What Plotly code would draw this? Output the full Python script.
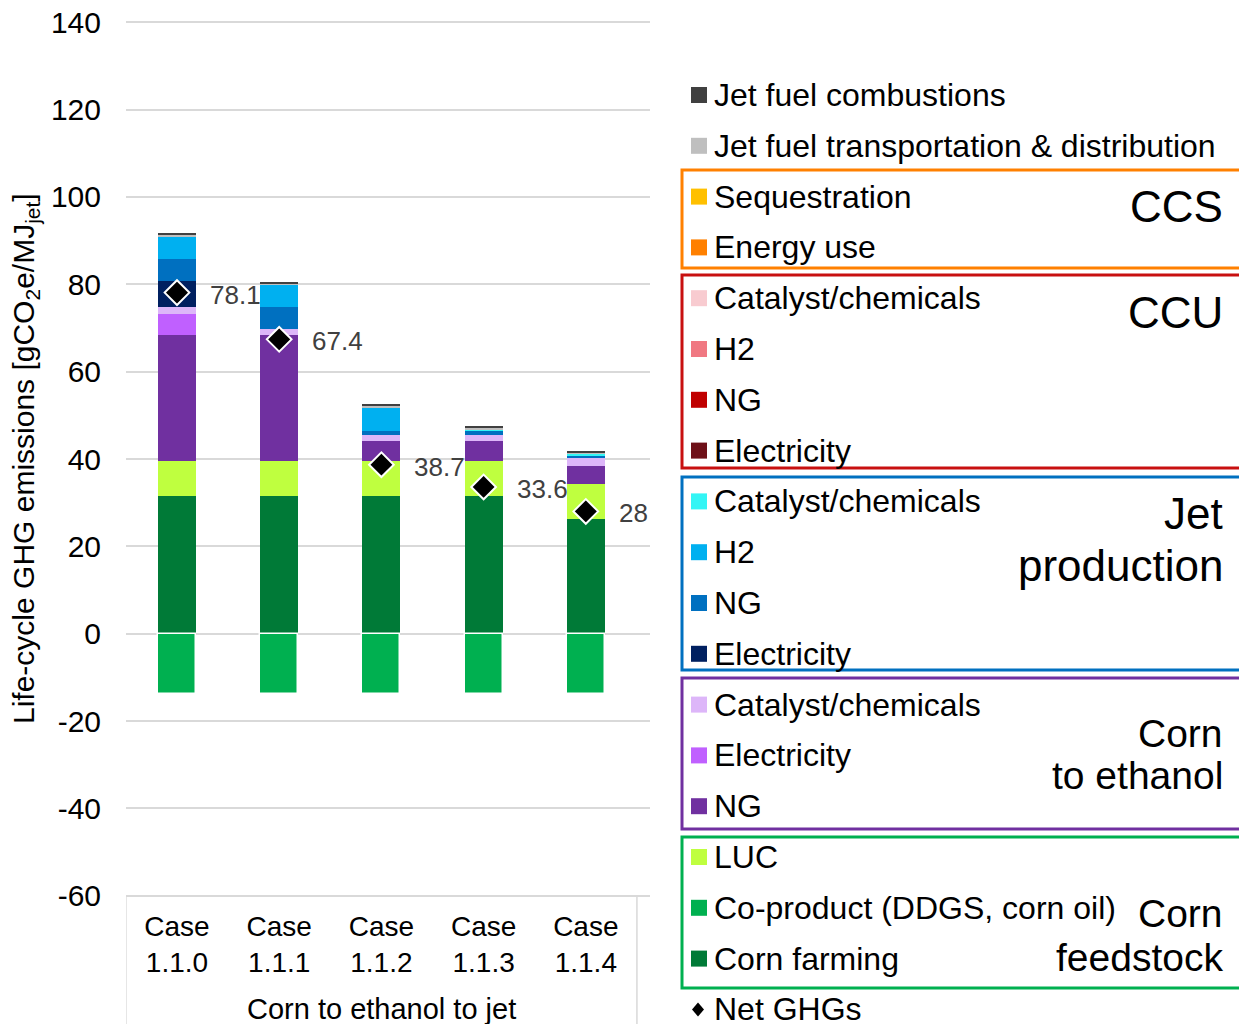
import plotly.graph_objects as go

# ---------------- data ----------------
cases = ["Case<br>1.1.0", "Case<br>1.1.1", "Case<br>1.1.2", "Case<br>1.1.3", "Case<br>1.1.4"]
x_pos = [0, 1, 2, 3, 4]

y_tick_vals = [-60, -40, -20, 0, 20, 40, 60, 80, 100, 120, 140]
y_tick_text = ["-60", "-40", "-20", "0", "20", "40", "60", "80", "100", "120", "140"]

corn_farming = [31.5, 31.5, 31.5, 31.5, 26.3]
co_product = [-13.9, -13.9, -13.9, -13.9, -13.9]
luc = [8.0, 8.0, 8.0, 8.0, 8.0]
corn_ng = [28.8, 28.8, 4.6, 4.6, 4.2]
corn_elec = [4.9, 0.0, 0.0, 0.0, 0.0]
corn_cat = [1.6, 1.4, 1.4, 1.5, 1.8]
jet_elec = [5.9, 0.0, 0.0, 0.0, 0.0]
jet_ng = [5.0, 5.0, 1.0, 1.0, 0.5]
jet_h2 = [5.3, 5.3, 5.4, 0.0, 0.0]
jet_cat = [0.0, 0.0, 0.0, 0.2, 0.4]
ccu_elec = [0.0, 0.0, 0.0, 0.0, 0.0]
ccu_ng = [0.0, 0.0, 0.0, 0.0, 0.0]
ccu_h2 = [0.0, 0.0, 0.0, 0.0, 0.0]
ccu_cat = [0.0, 0.0, 0.0, 0.0, 0.0]
ccs_energy = [0.0, 0.0, 0.0, 0.0, 0.0]
ccs_seq = [0.0, 0.0, 0.0, 0.0, 0.0]
jet_td = [0.3, 0.3, 0.3, 0.3, 0.3]
jet_comb = [0.3, 0.3, 0.3, 0.3, 0.3]

net = [78.1, 67.4, 38.7, 33.6, 28]
net_labels = ["78.1", "67.4", "38.7", "33.6", "28"]

# stacking order (bottom -> top); legend shows the reverse
series = [
    ("Corn farming", corn_farming, "#007A37"),
    ("Co-product (DDGS, corn oil)", co_product, "#00B050"),
    ("LUC", luc, "#BFFF3F"),
    ("NG", corn_ng, "#7030A0"),
    ("Electricity", corn_elec, "#C060FF"),
    ("Catalyst/chemicals", corn_cat, "#DDB6F9"),
    ("Electricity", jet_elec, "#002060"),
    ("NG", jet_ng, "#0070C0"),
    ("H2", jet_h2, "#00B0F0"),
    ("Catalyst/chemicals", jet_cat, "#33F5F5"),
    ("Electricity", ccu_elec, "#6E1018"),
    ("NG", ccu_ng, "#C00000"),
    ("H2", ccu_h2, "#F07882"),
    ("Catalyst/chemicals", ccu_cat, "#F8CBD0"),
    ("Energy use", ccs_energy, "#FF8000"),
    ("Sequestration", ccs_seq, "#FFC000"),
    ("Jet fuel transportation &amp; distribution", jet_td, "#BFBFBF"),
    ("Jet fuel combustions", jet_comb, "#404040"),
]

FONT = "Liberation Sans, Arial, sans-serif"
W, H = 1239, 1024
L, R, T, B = 126, 589, 21, 127
PW, PH = W - L - R, H - T - B


def px(xp):
    return (xp - L) / PW


def py(yp):
    return (H - B - yp) / PH


fig = go.Figure()
for name, vals, color in series:
    lw = 1.5 if name.startswith("Co-product") else 0
    fig.add_trace(go.Bar(
        x=x_pos, y=vals, name=name, width=0.372,
        marker=dict(color=color, line=dict(color="white", width=lw)),
        showlegend=False,
    ))

fig.add_trace(go.Scatter(
    x=x_pos, y=net, mode="markers", name="Net GHGs",
    marker=dict(symbol="diamond", size=19, color="black",
                line=dict(color="white", width=2)),
    showlegend=False,
))

annotations = []
for i, (xv, yv) in enumerate(zip(x_pos, net)):
    annotations.append(dict(
        x=xv, y=yv, xref="x", yref="y", text=net_labels[i], showarrow=False,
        xanchor="left", yanchor="middle", xshift=31, yshift=-2,
        font=dict(family=FONT, size=26, color="#404040"),
    ))

# y-axis title
annotations.append(dict(
    x=px(25), y=0.5, xref="paper", yref="paper",
    text="Life-cycle GHG emissions [gCO<sub>2</sub>e/MJ<sub>jet</sub>]",
    textangle=-90, showarrow=False, xanchor="center", yanchor="middle",
    font=dict(family=FONT, size=30, color="#000000"),
))

# group label under category axis
annotations.append(dict(
    x=2, y=py(1009), xref="x", yref="paper", text="Corn to ethanol to jet",
    showarrow=False, xanchor="center", yanchor="middle",
    font=dict(family=FONT, size=29, color="#000000"),
))

shapes = [
    dict(type="line", xref="x", yref="paper", x0=-0.5, x1=-0.5, y0=0, y1=py(1030),
         line=dict(color="#D9D9D9", width=1.5)),
    dict(type="line", xref="x", yref="paper", x0=4.5, x1=4.5, y0=0, y1=py(1030),
         line=dict(color="#D9D9D9", width=1.5)),
]

# ---------------- custom legend ----------------
legend_items = list(reversed(series))
row0, row_step = 95, 50.8
for i, (name, vals, color) in enumerate(legend_items):
    cy = row0 + i * row_step
    shapes.append(dict(type="rect", xref="paper", yref="paper",
                       x0=px(691), x1=px(707), y0=py(cy + 8), y1=py(cy - 8),
                       fillcolor=color, line=dict(width=0)))
    annotations.append(dict(
        x=px(712), y=py(cy), xref="paper", yref="paper", text=name,
        showarrow=False, xanchor="left", yanchor="middle",
        font=dict(family=FONT, size=32, color="#000000"),
    ))

cy = row0 + len(legend_items) * row_step
dx0, dy0 = px(698), py(cy)
hx, hy = 6 / PW, 7 / PH
shapes.append(dict(type="path", xref="paper", yref="paper",
                   path=f"M {dx0-hx} {dy0} L {dx0} {dy0+hy} L {dx0+hx} {dy0} L {dx0} {dy0-hy} Z",
                   fillcolor="black", line=dict(width=0)))
annotations.append(dict(
    x=px(712), y=py(cy), xref="paper", yref="paper", text="Net GHGs",
    showarrow=False, xanchor="left", yanchor="middle",
    font=dict(family=FONT, size=32, color="#000000"),
))

boxes = [
    (170, 268, "#FF8000"),
    (275, 468, "#C81010"),
    (477, 670, "#0070C0"),
    (678, 829, "#7030A0"),
    (837, 988, "#00B050"),
]
for y0, y1, col in boxes:
    shapes.append(dict(type="rect", xref="paper", yref="paper",
                       x0=px(682), x1=px(1250), y0=py(y1), y1=py(y0),
                       line=dict(color=col, width=3), fillcolor="rgba(0,0,0,0)"))

group_labels = [
    ("CCS", 206, 44),
    ("CCU", 312, 44),
    ("Jet", 513, 44),
    ("production", 565, 44),
    ("Corn", 733, 39),
    ("to ethanol", 775, 39),
    ("Corn", 913, 39),
    ("feedstock", 957, 39),
]
for txt, yc, fs in group_labels:
    annotations.append(dict(
        x=px(1225), y=py(yc), xref="paper", yref="paper", text=txt,
        showarrow=False, xanchor="right", yanchor="middle",
        font=dict(family=FONT, size=fs, color="#000000"),
    ))

fig.update_layout(
    width=W, height=H, autosize=False,
    margin=dict(l=L, r=R, t=T, b=B, pad=0, autoexpand=False),
    paper_bgcolor="white", plot_bgcolor="white",
    barmode="relative", bargap=0,
    font=dict(family=FONT, color="#000000"),
    annotations=annotations, shapes=shapes,
    showlegend=False,
)
fig.update_xaxes(
    range=[-0.499, 4.628], tickvals=x_pos, ticktext=cases,
    showgrid=False, zeroline=False, showline=False, ticks="",
    tickfont=dict(family=FONT, size=28, color="#000000"),
    ticklabelstandoff=10, automargin=False,
)
fig.update_yaxes(
    range=[-60.3, 140.3], tickvals=y_tick_vals, ticktext=y_tick_text,
    showgrid=True, gridcolor="#D9D9D9", gridwidth=1.5,
    zeroline=False, showline=False, ticks="",
    tickfont=dict(family=FONT, size=30, color="#000000"),
    ticklabelstandoff=24, automargin=False,
)

fig.write_html(
    "out.html",
    config={"displayModeBar": False},
    post_script="document.body.style.margin='0px';document.body.style.padding='0px';",
)
